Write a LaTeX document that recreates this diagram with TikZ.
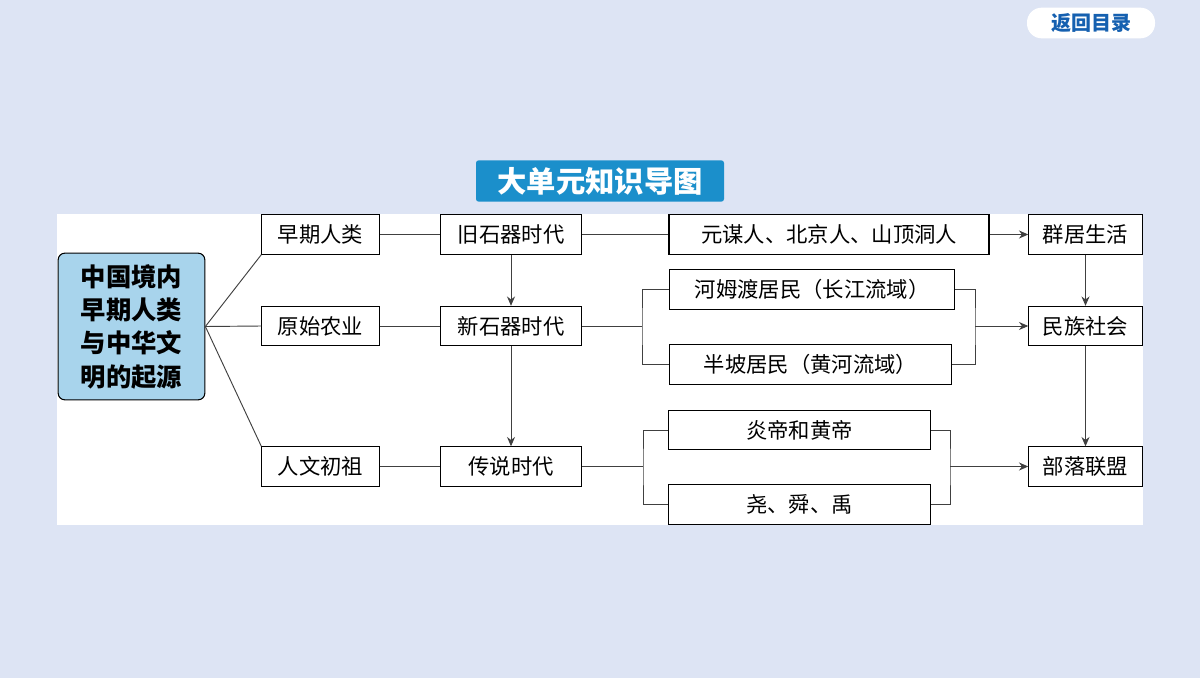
\documentclass[tikz,border=0pt]{standalone}
\usepackage{fontspec}
\newfontfamily\cjk{Noto Sans CJK SC}
\usetikzlibrary{positioning, arrows.meta}
\definecolor{bgblue}{HTML}{DDE4F4}
\definecolor{titleblue}{HTML}{1B8FCB}
\definecolor{rootblue}{HTML}{A8D4EC}
\definecolor{linkblue}{HTML}{1560B0}
\tikzset{
  box/.style={draw, line width=0.8pt, minimum height=29.5pt, inner sep=2pt, font=\cjk\fontsize{16}{19}\selectfont},
  link/.style={draw=black!75, line width=0.7pt},
  arr/.style={link, -{Stealth[length=7pt, width=6pt]}}
}
\begin{document}
\begin{tikzpicture}[x=0.75pt, y=-0.75pt]
            \fill[bgblue] (0,0) rectangle (1200,678);
            \useasboundingbox (0,0) rectangle (1200,678);
            \fill[white] (57,214) rectangle (1143,525);
            \node[fill=white, rounded corners=11pt, minimum width=96pt, minimum height=23pt, text=linkblue, font=\cjk\bfseries\fontsize{15}{18}\selectfont] (back) at (1091,23) {返回目录};
            \node[fill=titleblue, rounded corners=2pt, minimum width=186pt, minimum height=31pt, text=white, font=\cjk\bfseries\fontsize{22}{24}\selectfont] (title) at (600,181) {大单元知识导图};
            \node[draw, fill=rootblue, rounded corners=5pt, line width=0.8pt, minimum width=110pt, minimum height=110pt, align=center, inner sep=1pt, font=\cjk\bfseries\fontsize{19}{25}\selectfont] (root) at (131.5,326.5) {中国境内\\早期人类\\与中华文\\明的起源};
            % first column
            \node[box, minimum width=88pt] (early) at (320.5,234.5) {早期人类};
            \node[box, minimum width=88pt] (farm) at (320.5,326) {原始农业};
            \node[box, minimum width=88pt] (anc) at (320.5,466.5) {人文初祖};
            % ages
            \node[box, minimum width=106pt] (old) at (511,234.5) {旧石器时代};
            \node[box, minimum width=106pt] (new) at (511,326) {新石器时代};
            \node[box, minimum width=106pt] (leg) at (511,466.5) {传说时代};
            % examples
            \node[box, minimum width=240pt] (men) at (829,234.5) {元谋人、北京人、山顶洞人};
            \node[box, minimum width=214pt] (hmd) at (812,289.5) {河姆渡居民（长江流域）};
            \node[box, minimum width=212pt] (bp) at (810.5,364.5) {半坡居民（黄河流域）};
            \node[box, minimum width=196pt] (yan) at (799.5,430) {炎帝和黄帝};
            \node[box, minimum width=196pt] (yao) at (799.5,504.5) {尧、舜、禹};
            % results
            \node[box, minimum width=85pt] (group) at (1085.5,234.5) {群居生活};
            \node[box, minimum width=85pt] (clan) at (1085.5,326) {民族社会};
            \node[box, minimum width=85pt] (tribe) at (1085.5,466.5) {部落联盟};
            \coordinate (ba) at (642,326);
            \coordinate (bb) at (975,326);
            \coordinate (bc) at (643,466.5);
            \coordinate (bd) at (950,466.5);
            \draw[link] (root.east) -- (early.south west);
            \draw[link] (root.east) -- (farm.west);
            \draw[link] (root.east) -- (anc.north west);
            \draw[link] (early) -- (old);
            \draw[link] (farm) -- (new);
            \draw[link] (anc) -- (leg);
            \draw[link] (old) -- (men);
            \draw[arr] (old) -- (new);
            \draw[arr] (new) -- (leg);
            \draw[arr] (men) -- (group);
            \draw[arr] (group) -- (clan);
            \draw[arr] (clan) -- (tribe);
            \draw[link] (new) -- (ba);
            \draw[link] (hmd.west) -| (ba) |- (bp.west);
            \draw[link] (hmd.east) -| (bb) |- (bp.east);
            \draw[arr] (bb) -- (clan);
            \draw[link] (leg.east) -- (bc);
            \draw[link] (yan.west) -| (bc) |- (yao.west);
            \draw[link] (yan.east) -| (bd) |- (yao.east);
            \draw[arr] (bd) -- (tribe);
\end{tikzpicture}
\end{document}
